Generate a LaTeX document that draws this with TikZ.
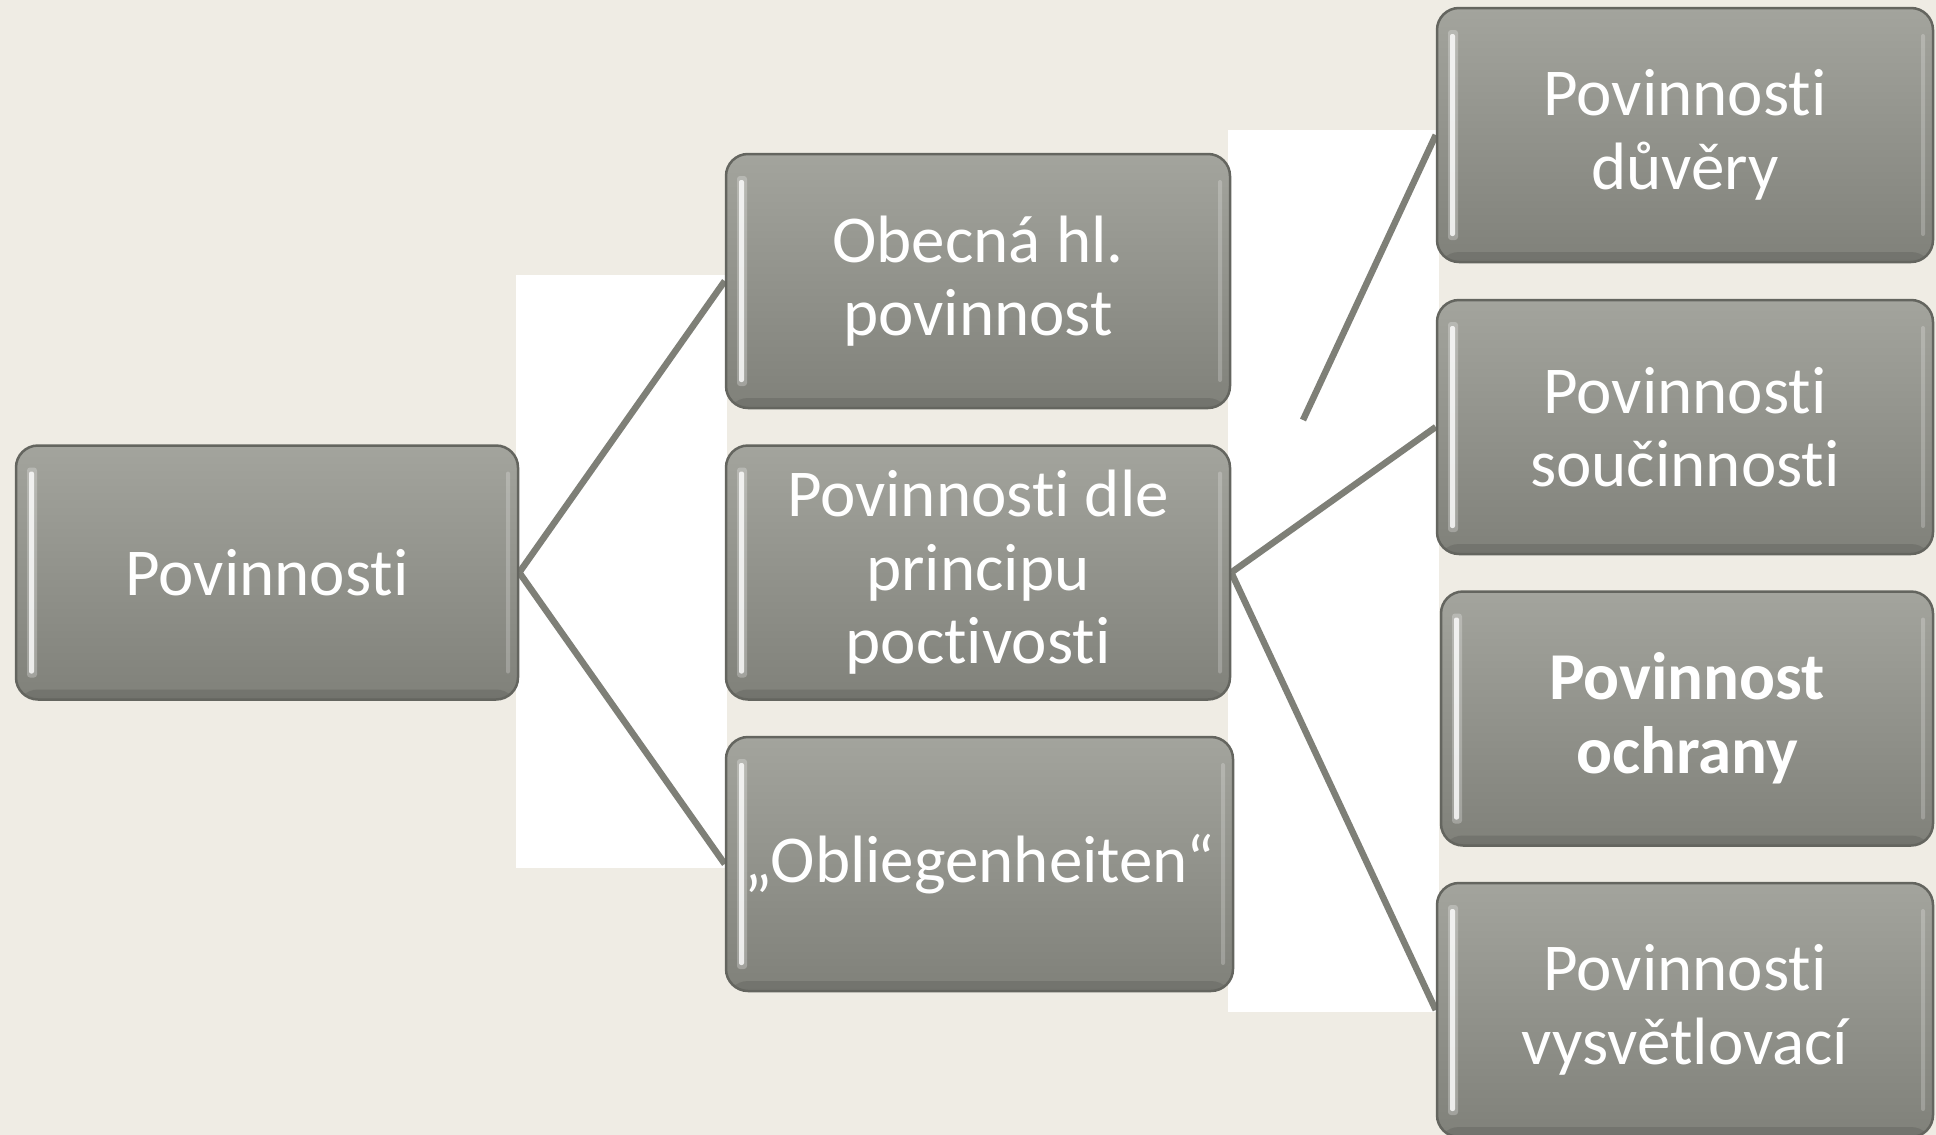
\documentclass[tikz,border=0pt]{standalone}
\usepackage{fontspec}
\setmainfont{Carlito}[Ligatures=NoCommon]
\usetikzlibrary{calc}
\pgfdeclarelayer{back}
\pgfsetlayers{back,main}
\definecolor{bgbeige}{RGB}{239,236,228}
\definecolor{boxtop}{RGB}{163,164,157}
\definecolor{boxbot}{RGB}{128,129,122}
\definecolor{boxedge}{RGB}{100,101,95}
\definecolor{linegray}{RGB}{126,127,119}
\tikzset{
  box/.style={draw=boxedge, line width=2.5pt, rounded corners=22pt,
    top color=boxtop, bottom color=boxbot,
    minimum width=#1, minimum height=254pt, inner sep=0pt,
    text=white, align=center,
    font=\fontsize{67}{73.5}\selectfont,
    path picture={
      \fill[white, opacity=0.25, rounded corners=3pt]
        ([xshift=11pt,yshift=-22pt]path picture bounding box.north west)
        rectangle ([xshift=21pt,yshift=22pt]path picture bounding box.south west);
      \fill[white, opacity=0.8, rounded corners=2pt]
        ([xshift=13pt,yshift=-26pt]path picture bounding box.north west)
        rectangle ([xshift=18pt,yshift=26pt]path picture bounding box.south west);
      \fill[white, opacity=0.22, rounded corners=2pt]
        ([xshift=-12pt,yshift=-26pt]path picture bounding box.north east)
        rectangle ([xshift=-8pt,yshift=26pt]path picture bounding box.south east);
      \fill[black, opacity=0.10]
        ([yshift=10pt]path picture bounding box.south west)
        rectangle (path picture bounding box.south east);
    }},
  box/.default=502pt,
  conn/.style={draw=linegray, line width=6.5pt},
  patch/.style={fill=white, draw=none}
}
\begin{document}
\begin{tikzpicture}[x=1pt,y=-1pt]
\useasboundingbox (0,0) rectangle (1936,1135);

% level 0
\node[box=502pt] (root) at (267,572.5) {Povinnosti};
% level 1
\node[box=504pt] (m1) at (978,281) {Obecná hl.\\povinnost};
\node[box=504pt] (m2) at (978,572.5) {Povinnosti dle\\principu\\poctivosti};
\node[box=507pt] (m3) at (979.5,864) {„Obliegenheiten“};
% level 2
\node[box=496pt] (r1) at (1685,135) {Povinnosti\\důvěry};
\node[box=496pt] (r2) at (1685,427) {Povinnosti\\součinnosti};
\node[box=492pt] (r3) at (1687,718.5) {\bfseries Povinnost\\\bfseries ochrany};
\node[box=496pt] (r4) at (1685,1010) {Povinnosti\\vysvětlovací};

\coordinate (cut) at (1303,420);

\begin{pgfonlayer}{back}
  \fill[bgbeige] (0,0) rectangle (1936,1135);
  \fill[patch] (516,275) rectangle (727,868);
  \fill[patch] (1228,130) rectangle (1439,1012);
  \draw[conn] (root.east) -- (m1.west);
  \draw[conn] (root.east) -- (m3.west);
  \draw[conn] (m2.east) -- (r2.west);
  \draw[conn] (m2.east) -- (r4.west);
  \draw[conn] (cut) -- (r1.west);
\end{pgfonlayer}
\end{tikzpicture}
\end{document}
